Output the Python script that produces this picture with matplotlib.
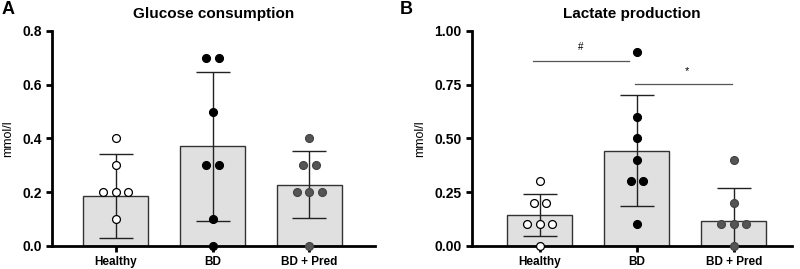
import numpy as np
import matplotlib.pyplot as plt

plt.rcParams["font.family"] = ["Liberation Sans", "DejaVu Sans"]

groups = ["Healthy", "BD", "BD + Pred"]

# panel A - glucose consumption (mmol/l)
glu_points = [
    [0.4, 0.3, 0.2, 0.2, 0.2, 0.1],
    [0.7, 0.7, 0.5, 0.3, 0.3, 0.1, 0.0],
    [0.4, 0.3, 0.3, 0.2, 0.2, 0.2, 0.0],
]
glu_mean = [0.185, 0.370, 0.227]
glu_sd = [0.157, 0.276, 0.125]

# panel B - lactate production (mmol/l)
lac_points = [
    [0.3, 0.2, 0.2, 0.1, 0.1, 0.1, 0.0],
    [0.9, 0.6, 0.5, 0.4, 0.3, 0.3, 0.1],
    [0.4, 0.2, 0.1, 0.1, 0.1, 0.0],
]
lac_mean = [0.142, 0.443, 0.114]
lac_sd = [0.098, 0.259, 0.157]

point_face = ["white", "black", "#555555"]
point_edge = ["black", "black", "#444444"]


def spread(values, step=0.13):
    # put equal values side by side, centred on the bar
    xs = np.zeros(len(values))
    vals = np.array(values)
    for v in np.unique(vals):
        idx = np.where(vals == v)[0]
        n = len(idx)
        xs[idx] = (np.arange(n) - (n - 1) / 2) * step
    return xs


def draw_panel(ax, points, means, sds, title, ylim, yticks, fmt):
    x = np.arange(len(groups))
    ax.bar(x, means, width=0.67, color="#e0e0e0", edgecolor="#333333", linewidth=1.0, zorder=1)
    ax.errorbar(x, means, yerr=sds, fmt="none", ecolor="#222222", elinewidth=1.0,
                capsize=12, capthick=1.0, zorder=2)
    for i, pts in enumerate(points):
        ax.scatter(i + spread(pts), pts, s=32, facecolor=point_face[i], edgecolor=point_edge[i],
                   linewidth=0.9, zorder=3, clip_on=False)
    ax.set_xlim(-0.66, 2.68)
    ax.set_ylim(*ylim)
    ax.set_yticks(yticks)
    ax.set_yticklabels([fmt.format(t) for t in yticks])
    ax.set_xticks(x)
    ax.set_xticklabels(groups)
    ax.set_ylabel("mmol/l", fontsize=9, labelpad=6)
    ax.set_title(title, fontsize=11, fontweight="bold", pad=9)
    for s in ["top", "right"]:
        ax.spines[s].set_visible(False)
    for s in ["left", "bottom"]:
        ax.spines[s].set_linewidth(2.0)
    ax.tick_params(axis="both", width=2.0, length=4)
    ax.tick_params(axis="x", labelsize=8.5)
    ax.tick_params(axis="y", labelsize=10)
    for lab in ax.get_xticklabels() + ax.get_yticklabels():
        lab.set_fontweight("bold")


fig = plt.figure(figsize=(8, 2.69), dpi=100)
ax1 = fig.add_axes([0.065, 0.086, 0.404, 0.799])
ax2 = fig.add_axes([0.59, 0.086, 0.40, 0.799])

draw_panel(ax1, glu_points, glu_mean, glu_sd, "Glucose consumption",
           (0, 0.8), [0.0, 0.2, 0.4, 0.6, 0.8], "{:.1f}")
draw_panel(ax2, lac_points, lac_mean, lac_sd, "Lactate production",
           (0, 1.0), [0.0, 0.25, 0.5, 0.75, 1.0], "{:.2f}")
ax2.set_xlim(-0.7, 2.6)

# significance bars
ax2.plot([-0.07, 0.92], [0.858, 0.858], color="#555555", linewidth=0.9)
ax2.text(0.42, 0.90, "#", ha="center", va="bottom", fontsize=7)
ax2.plot([0.98, 1.98], [0.753, 0.753], color="#555555", linewidth=0.9)
ax2.text(1.52, 0.79, "*", ha="center", va="bottom", fontsize=8)

fig.text(0.002, 0.995, "A", fontsize=13, fontweight="bold", va="top")
fig.text(0.5, 0.995, "B", fontsize=13, fontweight="bold", va="top")

fig.savefig("out.png", dpi=100)
